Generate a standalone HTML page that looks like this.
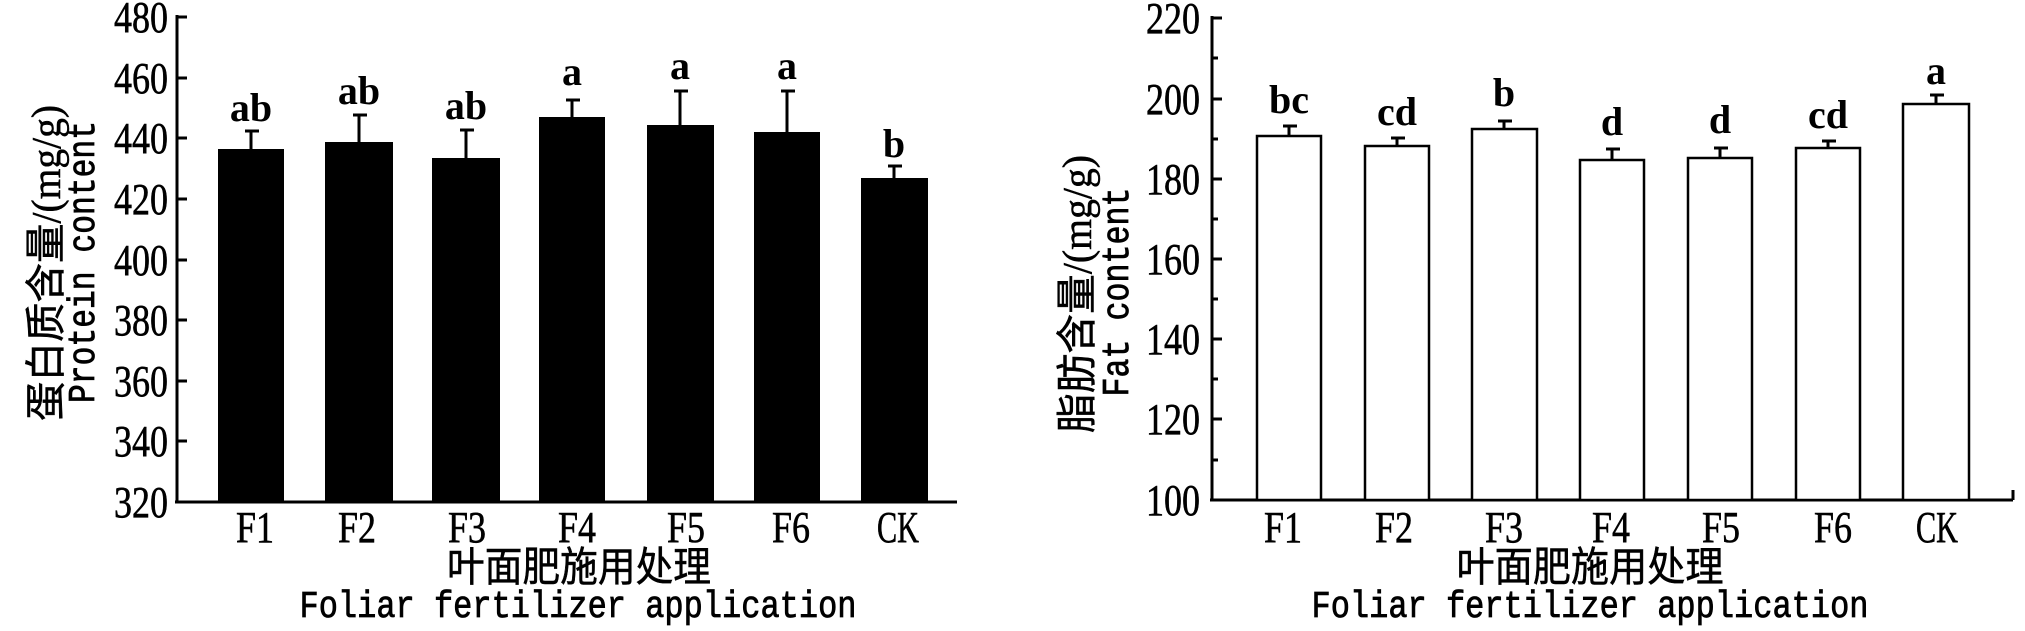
<!DOCTYPE html>
<html><head><meta charset="utf-8"><style>
html,body{margin:0;padding:0;background:#fff;}
svg{display:block;}
.t{font-family:"Liberation Serif","Noto Serif CJK SC",serif;font-size:44px;fill:#000;stroke:#000;stroke-width:0.6;}
.c{font-family:"Liberation Serif","Noto Sans CJK SC",sans-serif;font-size:41px;fill:#000;stroke:#000;stroke-width:0.5;}
.m{font-family:"Liberation Mono","DejaVu Sans Mono",monospace;font-size:38px;fill:#000;stroke:#000;stroke-width:0.8;}
.l{font-family:"Liberation Serif",serif;font-size:40px;fill:#000;}
</style></head><body>
<svg width="2025" height="631" viewBox="0 0 2025 631" xmlns="http://www.w3.org/2000/svg">
<g stroke="#000" stroke-width="3" fill="none">
<line x1="177" y1="15" x2="177" y2="502"/>
<line x1="175" y1="502" x2="957" y2="502"/>
<line x1="177" y1="17" x2="187" y2="17"/><line x1="177" y1="78" x2="187" y2="78"/>
<line x1="177" y1="138" x2="187" y2="138"/><line x1="177" y1="199" x2="187" y2="199"/>
<line x1="177" y1="260" x2="187" y2="260"/><line x1="177" y1="320" x2="187" y2="320"/>
<line x1="177" y1="381" x2="187" y2="381"/><line x1="177" y1="441" x2="187" y2="441"/>
<line x1="1212" y1="16" x2="1212" y2="500"/>
<line x1="1210" y1="500" x2="2013" y2="500"/>
<line x1="2013" y1="500" x2="2013" y2="490"/>
<line x1="1212" y1="18" x2="1222" y2="18"/><line x1="1212" y1="99" x2="1222" y2="99"/>
<line x1="1212" y1="179" x2="1222" y2="179"/><line x1="1212" y1="259" x2="1222" y2="259"/>
<line x1="1212" y1="339" x2="1222" y2="339"/><line x1="1212" y1="419" x2="1222" y2="419"/>
<line x1="1212" y1="58" x2="1218" y2="58"/><line x1="1212" y1="139" x2="1218" y2="139"/>
<line x1="1212" y1="219" x2="1218" y2="219"/><line x1="1212" y1="299" x2="1218" y2="299"/>
<line x1="1212" y1="379" x2="1218" y2="379"/><line x1="1212" y1="460" x2="1218" y2="460"/>
</g>
<g fill="#000">
<rect x="218" y="149" width="66" height="353"/>
<rect x="325" y="142" width="68" height="360"/>
<rect x="432" y="158" width="68" height="344"/>
<rect x="539" y="117" width="66" height="385"/>
<rect x="647" y="125" width="67" height="377"/>
<rect x="754" y="132" width="66" height="370"/>
<rect x="861" y="178" width="67" height="324"/>
</g>
<g stroke="#000" stroke-width="3">
<line x1="251" y1="149" x2="251" y2="131"/><line x1="245" y1="131" x2="259" y2="131"/>
<line x1="359" y1="142" x2="359" y2="115"/><line x1="353" y1="115" x2="367" y2="115"/>
<line x1="466" y1="158" x2="466" y2="130"/><line x1="460" y1="130" x2="474" y2="130"/>
<line x1="572" y1="117" x2="572" y2="100"/><line x1="566" y1="100" x2="580" y2="100"/>
<line x1="680" y1="125" x2="680" y2="91"/><line x1="674" y1="91" x2="688" y2="91"/>
<line x1="787" y1="132" x2="787" y2="91"/><line x1="781" y1="91" x2="795" y2="91"/>
<line x1="894" y1="178" x2="894" y2="166"/><line x1="888" y1="166" x2="902" y2="166"/>
</g>
<g fill="#fff" stroke="#000" stroke-width="2.5">
<rect x="1257" y="136" width="64" height="364"/>
<rect x="1365" y="146" width="64" height="354"/>
<rect x="1472" y="129" width="65" height="371"/>
<rect x="1580" y="160" width="64" height="340"/>
<rect x="1688" y="158" width="64" height="342"/>
<rect x="1796" y="148" width="64" height="352"/>
<rect x="1903" y="104" width="66" height="396"/>
</g>
<g stroke="#000" stroke-width="3">
<line x1="1289" y1="136" x2="1289" y2="126"/><line x1="1283" y1="126" x2="1297" y2="126"/>
<line x1="1397" y1="146" x2="1397" y2="138"/><line x1="1391" y1="138" x2="1405" y2="138"/>
<line x1="1504" y1="129" x2="1504" y2="121"/><line x1="1498" y1="121" x2="1512" y2="121"/>
<line x1="1612" y1="160" x2="1612" y2="149"/><line x1="1606" y1="149" x2="1620" y2="149"/>
<line x1="1720" y1="158" x2="1720" y2="148"/><line x1="1714" y1="148" x2="1728" y2="148"/>
<line x1="1828" y1="148" x2="1828" y2="141"/><line x1="1822" y1="141" x2="1836" y2="141"/>
<line x1="1936" y1="104" x2="1936" y2="95"/><line x1="1930" y1="95" x2="1944" y2="95"/>
</g>
<g class="t" text-anchor="end">
<text x="168" y="32" textLength="54" lengthAdjust="spacingAndGlyphs">480</text>
<text x="168" y="93" textLength="54" lengthAdjust="spacingAndGlyphs">460</text>
<text x="168" y="153" textLength="54" lengthAdjust="spacingAndGlyphs">440</text>
<text x="168" y="214" textLength="54" lengthAdjust="spacingAndGlyphs">420</text>
<text x="168" y="275" textLength="54" lengthAdjust="spacingAndGlyphs">400</text>
<text x="168" y="335" textLength="54" lengthAdjust="spacingAndGlyphs">380</text>
<text x="168" y="396" textLength="54" lengthAdjust="spacingAndGlyphs">360</text>
<text x="168" y="456" textLength="54" lengthAdjust="spacingAndGlyphs">340</text>
<text x="168" y="517" textLength="54" lengthAdjust="spacingAndGlyphs">320</text>
</g>
<g class="t" text-anchor="end">
<text x="1200" y="33" textLength="54" lengthAdjust="spacingAndGlyphs">220</text>
<text x="1200" y="114" textLength="54" lengthAdjust="spacingAndGlyphs">200</text>
<text x="1200" y="194" textLength="54" lengthAdjust="spacingAndGlyphs">180</text>
<text x="1200" y="274" textLength="54" lengthAdjust="spacingAndGlyphs">160</text>
<text x="1200" y="354" textLength="54" lengthAdjust="spacingAndGlyphs">140</text>
<text x="1200" y="434" textLength="54" lengthAdjust="spacingAndGlyphs">120</text>
<text x="1200" y="515" textLength="54" lengthAdjust="spacingAndGlyphs">100</text>
</g>
<g class="t" text-anchor="middle">
<text x="255" y="542" textLength="38" lengthAdjust="spacingAndGlyphs">F1</text><text x="357" y="542" textLength="38" lengthAdjust="spacingAndGlyphs">F2</text><text x="467" y="542" textLength="38" lengthAdjust="spacingAndGlyphs">F3</text>
<text x="577" y="542" textLength="38" lengthAdjust="spacingAndGlyphs">F4</text><text x="686" y="542" textLength="38" lengthAdjust="spacingAndGlyphs">F5</text><text x="791" y="542" textLength="38" lengthAdjust="spacingAndGlyphs">F6</text><text x="898" y="542" textLength="42" lengthAdjust="spacingAndGlyphs">CK</text>
<text x="1283" y="542" textLength="38" lengthAdjust="spacingAndGlyphs">F1</text><text x="1394" y="542" textLength="38" lengthAdjust="spacingAndGlyphs">F2</text><text x="1504" y="542" textLength="38" lengthAdjust="spacingAndGlyphs">F3</text>
<text x="1611" y="542" textLength="38" lengthAdjust="spacingAndGlyphs">F4</text><text x="1721" y="542" textLength="38" lengthAdjust="spacingAndGlyphs">F5</text><text x="1833" y="542" textLength="38" lengthAdjust="spacingAndGlyphs">F6</text><text x="1937" y="542" textLength="42" lengthAdjust="spacingAndGlyphs">CK</text>
</g>
<g class="l" text-anchor="middle" font-weight="bold">
<text x="251" y="121">ab</text><text x="359" y="104">ab</text><text x="466" y="119">ab</text>
<text x="572" y="85">a</text><text x="680" y="79">a</text><text x="787" y="79">a</text><text x="894" y="157">b</text>
<text x="1289" y="113">bc</text><text x="1397" y="125">cd</text><text x="1504" y="106">b</text>
<text x="1612" y="135">d</text><text x="1720" y="133">d</text><text x="1828" y="128">cd</text><text x="1936" y="84">a</text>
</g>
<g text-anchor="middle">
<text class="c" x="579" y="581" textLength="264" lengthAdjust="spacingAndGlyphs">叶面肥施用处理</text>
<text class="m" x="578" y="617" textLength="557" lengthAdjust="spacingAndGlyphs">Foliar fertilizer application</text>
<text class="c" x="1590" y="581" textLength="267" lengthAdjust="spacingAndGlyphs">叶面肥施用处理</text>
<text class="m" x="1590" y="617" textLength="557" lengthAdjust="spacingAndGlyphs">Foliar fertilizer application</text>
</g>
<text class="c" text-anchor="middle" transform="translate(60,263) rotate(-90)" textLength="316" lengthAdjust="spacingAndGlyphs">蛋白质含量/(mg/g)</text>
<text class="m" text-anchor="middle" transform="translate(94,262) rotate(-90)" textLength="282" lengthAdjust="spacingAndGlyphs">Protein content</text>
<text class="c" text-anchor="middle" transform="translate(1091,294) rotate(-90)" textLength="278" lengthAdjust="spacingAndGlyphs">脂肪含量/(mg/g)</text>
<text class="m" text-anchor="middle" transform="translate(1128,292) rotate(-90)" textLength="209" lengthAdjust="spacingAndGlyphs">Fat content</text>
</svg>
</body></html>
